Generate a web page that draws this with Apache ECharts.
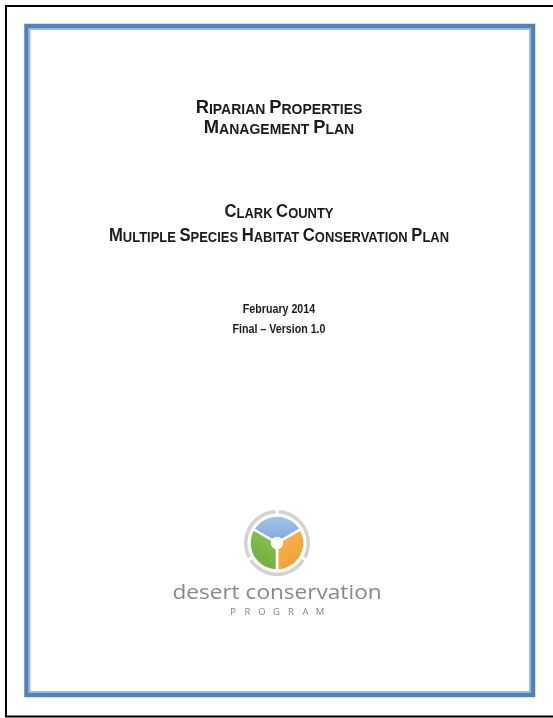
<!DOCTYPE html>
<html><head><meta charset="utf-8">
<script src="https://cdn.jsdelivr.net/npm/echarts@6/dist/echarts.min.js"></script>
<style>html,body{margin:0;padding:0;background:#fff}#c{width:553px;height:718px}</style>
</head><body><div id="c"></div>
<script>
// ---- content ----
const titleLines = ['Riparian Properties', 'Management Plan'];
const subtitleLines = ['Clark County', 'Multiple Species Habitat Conservation Plan'];
const dateLines = ['February 2014', 'Final \u2013 Version 1.0'];
const logoLeafNames = ['blue', 'orange', 'green'];
const logoLeafValues = [1, 1, 1];
const logoRingValues = [1, 1, 1];
const logoName = 'desert conservation';
const logoSub = 'PROGRAM';

// ---- styles ----
const sans = "'Liberation Sans', Arial, sans-serif";
const ink = '#1b1b1b';
const leafColors = {
  blue: new echarts.graphic.LinearGradient(0, 0, 0, 1, [{offset: 0, color: '#a6c7ec'}, {offset: 1, color: '#7fa9d8'}]),
  orange: new echarts.graphic.LinearGradient(0, 0, 1, 1, [{offset: 0, color: '#f8b856'}, {offset: 1, color: '#ee9a2e'}]),
  green: new echarts.graphic.LinearGradient(1, 0, 0, 1, [{offset: 0, color: '#8fc653'}, {offset: 1, color: '#6aa738'}])
};

function smallCaps(str) {
  const words = str.split(' ');
  return words.map(w => '{big|' + w[0].toUpperCase() + '}{sm|' + w.slice(1).toUpperCase() + '}').join('{sm| }');
}
function capsText(str, y, big, sm, sx) {
  return {
    type: 'text', x: 279, y: y, scaleX: sx,
    style: {
      text: smallCaps(str), align: 'center', verticalAlign: 'bottom',
      fill: ink,
      rich: {
        big: {fontSize: big, fontWeight: 'bold', fontFamily: sans, fill: ink, lineHeight: big, verticalAlign: 'bottom'},
        sm: {fontSize: sm, fontWeight: 'bold', fontFamily: sans, fill: ink, lineHeight: big, verticalAlign: 'bottom'}
      }
    }
  };
}
function plainText(str, y, size) {
  return {
    type: 'text', x: 279, y: y, scaleX: 0.82,
    style: {text: str, align: 'center', verticalAlign: 'bottom', fontSize: size, fontWeight: 'bold', fontFamily: sans, fill: ink}
  };
}

const graphics = [];
// outer black page border
graphics.push({type: 'rect', shape: {x: 6, y: 6, width: 570, height: 710.5}, style: {fill: 'none', stroke: '#000', lineWidth: 2}});
// blue frame
graphics.push({type: 'rect', shape: {x: 26.5, y: 26, width: 506.5, height: 669}, style: {fill: 'none', stroke: '#4f81bd', lineWidth: 4.5}});
graphics.push({type: 'rect', shape: {x: 29.5, y: 29, width: 500.5, height: 663}, style: {fill: 'none', stroke: '#9bb9de', lineWidth: 2}});

const titleBaselines = [117, 137];
titleLines.forEach((t, i) => graphics.push(capsText(t, titleBaselines[i], 19, 14.5, 0.965)));
const subBaselines = [221, 245];
subtitleLines.forEach((t, i) => graphics.push(capsText(t, subBaselines[i], 18, 14, 0.925)));
const dateBaselines = [316, 336];
dateLines.forEach((t, i) => graphics.push(plainText(t, dateBaselines[i], 13)));

graphics.push({
  type: 'text', x: 277, y: 593, scaleX: 1.13,
  style: {text: logoName, align: 'center', verticalAlign: 'middle', fontSize: 20, fontFamily: "'Open Sans', 'Lato', sans-serif", fill: '#888888'}
});
const subSpacing = 14.5;
logoSub.split('').forEach((ch, i) => {
  graphics.push({
    type: 'text', x: 233 + i * subSpacing, y: 612,
    style: {text: ch, align: 'center', verticalAlign: 'middle', fontSize: 9.5, fontFamily: "'Open Sans', 'Lato', sans-serif", fill: '#858585'}
  });
});

const chart = echarts.init(document.getElementById('c'), null, {renderer: 'canvas'});
chart.setOption({
  backgroundColor: '#ffffff',
  animation: false,
  graphic: graphics,
  series: [
    {
      type: 'pie', center: [277, 543], radius: [28, 34.5], startAngle: 90, silent: true,
      label: {show: false}, labelLine: {show: false},
      itemStyle: {color: '#d2d2d2', borderColor: '#ffffff', borderWidth: 3},
      data: logoRingValues.map(v => ({value: v}))
    },
    {
      type: 'pie', center: [277, 543], radius: [5, 27.5], startAngle: 150, silent: true,
      label: {show: false}, labelLine: {show: false},
      itemStyle: {borderColor: '#ffffff', borderWidth: 2.5},
      data: logoLeafNames.map((n, i) => ({name: n, value: logoLeafValues[i], itemStyle: {color: leafColors[n]}}))
    }
  ]
});
</script>
</body></html>
